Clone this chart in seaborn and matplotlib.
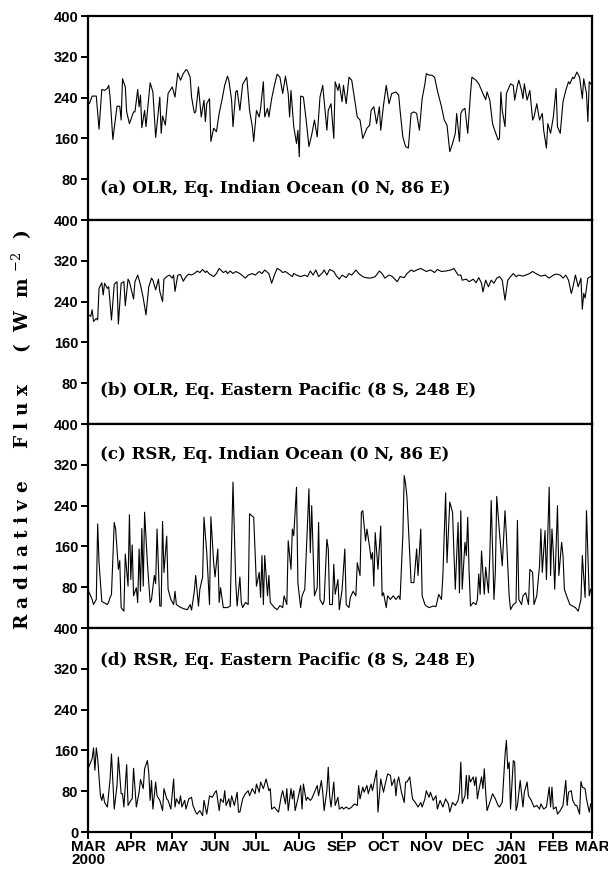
import numpy as np
import pandas as pd
import matplotlib
matplotlib.use("Agg")
import matplotlib.pyplot as plt
import matplotlib.dates as mdates
import seaborn as sns

# ---------------- data (day offsets from 2000-03-01, values in W m-2) ----------------
days_a = [0, 1, 3, 6, 8, 10, 12, 14, 15, 16, 18, 21, 23, 24, 25, 27, 28, 30, 33, 34, 36, 37, 38, 39, 41, 42, 45, 47, 49,
          52, 53, 54, 56, 58, 61, 63, 65, 67, 69, 71, 72, 74, 75, 77, 78, 80, 82, 84, 85, 86, 88, 89, 91, 93, 95, 97,
          99, 101, 102, 104, 105, 107, 108, 110, 112, 115, 117, 119, 120, 122, 124, 125, 127, 128, 130, 131, 133, 135,
          137, 139, 141, 143, 145, 146, 147, 149, 151, 152, 153, 154, 156, 158, 160, 162, 164, 166, 168, 170, 171, 173,
          174, 176, 178, 179, 181, 182, 184, 185, 187, 189, 191, 193, 195, 197, 199, 202, 204, 205, 207, 209, 211, 212,
          214, 216, 218, 220, 223, 225, 226, 228, 230, 232, 234, 236, 238, 240, 242, 244, 245, 247, 249, 251, 253, 256,
          258, 260, 262, 264, 266, 267, 269, 270, 271, 273, 275, 277, 278, 281, 283, 285, 286, 288, 289, 291, 293, 294,
          297, 298, 299, 300, 302, 303, 306, 308, 309, 311, 312, 314, 315, 316, 318, 320, 322, 323, 325, 327, 329, 330,
          332, 333, 335, 337, 339, 340, 342, 344, 346, 348, 349, 351, 352, 354, 356, 358, 359, 361, 362, 363, 365]
olr_io = [230, 228, 243, 243, 178, 256, 254, 258, 264, 241, 158, 223, 223, 196, 277, 261, 212, 189, 212, 212, 256, 222,
          245, 181, 215, 183, 269, 251, 162, 241, 170, 204, 186, 248, 261, 241, 288, 274, 287, 295, 293, 280, 241, 210,
          212, 261, 202, 235, 193, 228, 238, 154, 180, 173, 209, 235, 264, 282, 274, 235, 183, 251, 254, 215, 266, 280,
          215, 183, 154, 215, 202, 219, 271, 202, 219, 202, 238, 264, 286, 280, 248, 282, 248, 202, 254, 183, 150, 176,
          124, 243, 241, 196, 144, 167, 196, 163, 241, 264, 235, 176, 215, 228, 160, 271, 254, 267, 232, 264, 228, 280,
          274, 238, 202, 196, 160, 180, 186, 215, 222, 189, 222, 176, 225, 264, 228, 248, 251, 245, 215, 163, 144, 141,
          209, 212, 209, 176, 238, 267, 287, 284, 284, 280, 254, 222, 196, 186, 134, 150, 170, 209, 154, 209, 215, 219,
          170, 248, 280, 274, 267, 254, 248, 236, 251, 235, 189, 180, 157, 160, 251, 215, 183, 248, 267, 264, 235, 264,
          274, 254, 238, 267, 235, 254, 196, 202, 228, 196, 209, 176, 141, 189, 170, 202, 258, 183, 170, 232, 254, 271,
          267, 280, 277, 290, 280, 238, 277, 248, 193, 271, 264]

days_b = [0, 2, 3, 4, 6, 7, 8, 10, 11, 12, 14, 15, 17, 19, 21, 22, 24, 26, 27, 29, 30, 33, 34, 36, 38, 40, 42, 44, 46,
          47, 49, 51, 52, 54, 55, 57, 59, 61, 62, 63, 65, 67, 69, 71, 73, 75, 78, 79, 81, 83, 85, 86, 88, 91, 93, 95,
          98, 100, 101, 103, 105, 107, 110, 114, 116, 119, 121, 124, 126, 128, 131, 133, 135, 137, 139, 141, 143, 145,
          148, 149, 151, 154, 157, 159, 161, 163, 165, 167, 170, 171, 173, 175, 178, 180, 182, 184, 187, 189, 191, 194,
          196, 199, 201, 204, 206, 208, 211, 213, 215, 218, 220, 224, 226, 229, 231, 234, 236, 238, 241, 245, 248, 251,
          253, 256, 259, 263, 265, 268, 270, 271, 274, 276, 279, 281, 283, 285, 286, 288, 290, 292, 294, 296, 298, 300,
          302, 304, 306, 308, 310, 312, 315, 319, 322, 325, 328, 331, 334, 337, 339, 342, 344, 346, 348, 350, 351, 353,
          355, 357, 358, 359, 360, 362, 364, 365]
olr_ep = [215, 211, 224, 201, 207, 204, 266, 277, 253, 276, 266, 269, 204, 274, 279, 196, 276, 279, 232, 284, 279, 245,
          279, 292, 273, 247, 214, 269, 286, 282, 263, 284, 260, 240, 284, 289, 292, 286, 292, 260, 292, 293, 280, 289,
          294, 292, 297, 300, 297, 303, 297, 300, 294, 289, 295, 305, 297, 300, 295, 300, 295, 299, 295, 286, 292, 295,
          292, 299, 295, 302, 295, 276, 292, 305, 302, 297, 299, 295, 289, 295, 292, 289, 292, 289, 300, 292, 302, 289,
          297, 302, 292, 303, 299, 290, 284, 292, 287, 295, 292, 302, 295, 289, 287, 286, 287, 289, 300, 295, 286, 292,
          290, 279, 289, 287, 295, 302, 299, 302, 305, 299, 302, 297, 303, 299, 300, 302, 305, 292, 292, 282, 284, 279,
          284, 277, 287, 276, 259, 282, 269, 282, 276, 286, 289, 282, 243, 282, 289, 295, 289, 292, 290, 294, 299, 294,
          290, 292, 286, 292, 294, 292, 286, 292, 282, 256, 266, 292, 269, 286, 225, 256, 247, 286, 289, 289]

days_c = [0, 3, 4, 6, 7, 8, 10, 12, 14, 15, 16, 17, 19, 20, 22, 23, 24, 26, 27, 29, 30, 31, 32, 33, 35, 36, 37, 38, 39,
          40, 41, 43, 45, 46, 48, 49, 50, 52, 53, 54, 55, 57, 58, 60, 62, 63, 64, 66, 69, 72, 74, 75, 77, 78, 80, 81,
          83, 84, 86, 88, 89, 91, 92, 94, 95, 96, 98, 101, 103, 105, 107, 108, 110, 111, 112, 114, 116, 117, 120, 122,
          124, 125, 126, 127, 128, 130, 131, 132, 135, 137, 139, 141, 142, 144, 145, 147, 148, 149, 151, 152, 154, 155,
          157, 159, 160, 161, 162, 164, 166, 167, 168, 170, 171, 173, 174, 175, 177, 178, 179, 181, 182, 184, 186, 187,
          189, 190, 192, 194, 195, 197, 198, 199, 201, 202, 204, 205, 206, 207, 208, 210, 211, 212, 213, 214, 216, 217,
          219, 221, 223, 225, 226, 228, 229, 230, 231, 234, 236, 238, 239, 241, 242, 244, 245, 247, 250, 252, 254, 256,
          257, 259, 260, 262, 264, 265, 266, 268, 269, 270, 271, 273, 274, 275, 276, 277, 279, 281, 282, 283, 284, 285,
          287, 288, 290, 291, 292, 294, 295, 296, 298, 300, 302, 303, 305, 306, 308, 310, 311, 312, 314, 315, 317, 319,
          320, 322, 323, 325, 327, 328, 329, 331, 332, 334, 335, 336, 337, 338, 340, 341, 343, 344, 345, 347, 349, 351,
          353, 355, 357, 358, 360, 361, 363, 364, 365]
rsr_io = [75, 56, 46, 56, 204, 128, 52, 49, 46, 51, 60, 66, 207, 194, 115, 132, 40, 33, 145, 82, 222, 95, 163, 63, 79,
          50, 155, 72, 195, 82, 227, 128, 50, 56, 103, 87, 194, 43, 43, 209, 109, 180, 76, 56, 46, 72, 46, 42, 38, 36,
          46, 35, 72, 103, 43, 76, 100, 217, 148, 46, 218, 128, 100, 155, 50, 79, 40, 40, 43, 286, 89, 43, 100, 50, 40,
          50, 46, 224, 217, 82, 109, 60, 142, 46, 142, 63, 103, 50, 40, 36, 44, 40, 63, 46, 171, 115, 194, 181, 276, 89,
          40, 63, 76, 204, 273, 148, 240, 63, 79, 207, 56, 46, 53, 174, 155, 46, 46, 125, 66, 95, 36, 75, 155, 46, 40,
          60, 72, 63, 128, 103, 227, 230, 171, 194, 158, 135, 148, 82, 187, 115, 158, 200, 63, 69, 40, 63, 56, 63, 56,
          63, 56, 181, 299, 283, 256, 89, 89, 155, 103, 194, 63, 46, 43, 40, 43, 42, 66, 56, 103, 265, 128, 247, 227,
          148, 76, 207, 69, 230, 76, 168, 142, 217, 109, 43, 50, 46, 56, 106, 66, 151, 66, 119, 69, 142, 250, 56, 109,
          258, 187, 122, 230, 181, 63, 36, 46, 50, 211, 56, 46, 63, 69, 46, 115, 109, 46, 63, 122, 194, 109, 191, 95,
          276, 103, 194, 148, 76, 240, 103, 168, 142, 76, 60, 46, 43, 40, 33, 56, 142, 60, 230, 63, 76, 72]

days_d = [0, 3, 4, 5, 6, 7, 9, 10, 11, 12, 14, 16, 17, 19, 21, 22, 24, 25, 26, 28, 29, 31, 32, 33, 35, 37, 38, 40, 41,
          43, 44, 45, 46, 47, 49, 50, 52, 54, 55, 57, 58, 60, 62, 63, 64, 66, 67, 68, 70, 71, 73, 75, 76, 78, 79, 81,
          83, 84, 86, 88, 90, 92, 93, 95, 96, 98, 99, 100, 102, 103, 104, 106, 108, 109, 110, 112, 114, 116, 117, 119,
          121, 122, 124, 125, 127, 129, 131, 132, 133, 135, 136, 138, 140, 141, 143, 144, 145, 147, 148, 149, 150, 152,
          154, 155, 156, 158, 159, 161, 162, 164, 166, 167, 169, 170, 171, 173, 174, 175, 176, 178, 179, 181, 182, 184,
          185, 187, 189, 191, 193, 195, 196, 197, 199, 200, 202, 203, 205, 206, 207, 209, 210, 212, 214, 215, 217, 219,
          220, 222, 223, 224, 225, 227, 229, 230, 231, 233, 235, 237, 239, 241, 242, 244, 245, 247, 248, 250, 252, 253,
          255, 257, 259, 261, 262, 264, 266, 268, 269, 270, 271, 273, 274, 275, 276, 277, 279, 280, 281, 282, 283, 285,
          286, 287, 288, 289, 291, 293, 295, 297, 298, 300, 302, 303, 304, 305, 306, 308, 309, 310, 311, 313, 315, 316,
          318, 319, 321, 323, 325, 327, 328, 330, 332, 334, 335, 336, 337, 339, 340, 342, 344, 346, 347, 348, 350, 351,
          353, 354, 356, 357, 358, 360, 361, 363, 364, 365]
rsr_ep = [124, 144, 165, 121, 165, 144, 71, 62, 75, 58, 49, 104, 153, 45, 91, 147, 75, 75, 49, 132, 52, 62, 65, 125, 49,
          78, 103, 85, 124, 140, 117, 62, 101, 45, 98, 71, 62, 42, 85, 65, 62, 45, 104, 49, 65, 55, 71, 49, 62, 45, 65,
          68, 52, 39, 35, 42, 32, 62, 35, 71, 68, 78, 81, 42, 65, 58, 81, 52, 65, 49, 71, 52, 78, 39, 39, 65, 75, 81, 71,
          85, 75, 94, 78, 98, 85, 104, 81, 85, 45, 49, 45, 39, 71, 81, 55, 85, 42, 85, 65, 81, 42, 65, 91, 45, 94, 62,
          68, 62, 65, 78, 91, 71, 101, 78, 42, 81, 127, 71, 49, 98, 52, 68, 45, 49, 45, 49, 45, 49, 55, 52, 91, 65, 88,
          78, 91, 75, 94, 81, 94, 121, 39, 104, 78, 91, 114, 111, 91, 104, 71, 98, 108, 78, 58, 98, 98, 108, 65, 58, 49,
          58, 49, 65, 81, 68, 78, 62, 71, 45, 62, 49, 65, 55, 39, 58, 52, 62, 78, 137, 56, 71, 111, 65, 111, 98, 108,
          91, 108, 65, 81, 108, 85, 124, 78, 42, 58, 75, 65, 52, 49, 58, 150, 180, 124, 137, 45, 140, 137, 42, 52, 101,
          49, 78, 98, 71, 62, 49, 52, 45, 55, 45, 49, 88, 49, 88, 45, 49, 35, 42, 52, 101, 52, 78, 81, 62, 52, 52, 35,
          99, 88, 85, 65, 39, 55, 55]

panel_titles = ["(a) OLR, Eq. Indian Ocean (0 N, 86 E)",
                "(b) OLR, Eq. Eastern Pacific (8 S, 248 E)",
                "(c) RSR, Eq. Indian Ocean (0 N, 86 E)",
                "(d) RSR, Eq. Eastern Pacific (8 S, 248 E)"]
month_labels = ["MAR\n2000", "APR", "MAY", "JUN", "JUL", "AUG", "SEP", "OCT", "NOV", "DEC", "JAN\n2001", "FEB", "MAR"]
y_ticks_upper = [80, 160, 240, 320, 400]
y_ticks_lower = [0, 80, 160, 240, 320, 400]
start_date = "2000-03-01"
end_date = "2001-03-01"

# ---------------- plotting ----------------
sns.set_theme(style="white")
plt.rcParams["font.family"] = ["DejaVu Serif"]
plt.rcParams["mathtext.fontset"] = "dejavuserif"
plt.rcParams["text.color"] = "black"
plt.rcParams["xtick.color"] = "black"
plt.rcParams["ytick.color"] = "black"
plt.rcParams["xtick.labelcolor"] = "black"
plt.rcParams["ytick.labelcolor"] = "black"

tick_font = dict(family=["Liberation Sans", "DejaVu Sans"], weight="bold", color="black")

fig = plt.figure(figsize=(6.08, 8.73), dpi=100)
left, width = 88 / 608, 504 / 608
top_px, panel_px = 16, 204
series = [(days_a, olr_io), (days_b, olr_ep), (days_c, rsr_io), (days_d, rsr_ep)]
label_pos = [(0.024, 0.152), (0.024, 0.163), (0.024, 0.852), (0.024, 0.843)]

t0 = pd.Timestamp(start_date)
for i, (dd, vv) in enumerate(series):
    bottom = 1 - (top_px + (i + 1) * panel_px) / 873
    ax = fig.add_axes([left, bottom, width, panel_px / 873])
    df = pd.DataFrame({"date": t0 + pd.to_timedelta(dd, unit="D"), "value": vv})
    sns.lineplot(data=df, x="date", y="value", ax=ax, color="black", linewidth=0.8)
    ax.set_xlim(pd.Timestamp(start_date), pd.Timestamp(end_date))
    ax.set_ylim(0, 400)
    ax.set_xlabel("")
    ax.set_ylabel("")
    for s in ax.spines.values():
        s.set_linewidth(1.6)
        s.set_color("black")
    ticks = y_ticks_lower if i == 3 else y_ticks_upper
    ax.set_yticks(ticks)
    ax.set_yticklabels([str(t) for t in ticks], fontsize=10.5, **tick_font)
    ax.tick_params(axis="y", direction="out", length=5, width=1.4, left=True, pad=2, colors="black")
    if i < 3:
        ax.set_xticks([])
    else:
        ax.tick_params(axis="x", direction="out", length=5, width=1.4, bottom=True, pad=1, colors="black")
        ax.set_xticks([t0 + pd.DateOffset(months=k) for k in range(13)])
        ax.set_xticklabels(month_labels, fontsize=11, linespacing=0.9, **tick_font)
    ax.text(label_pos[i][0], label_pos[i][1], panel_titles[i], transform=ax.transAxes,
            fontsize=12, fontweight="bold", ha="left", va="center", color="black")
    ax.grid(False)

fig.text(22 / 608, 1 - 430 / 873, "R a d i a t i v e     F l u x     (  W  m $^{-2}$  )",
         rotation=90, ha="center", va="center", fontsize=13.3, fontweight="bold", color="black")

fig.savefig("out.png", dpi=100)
